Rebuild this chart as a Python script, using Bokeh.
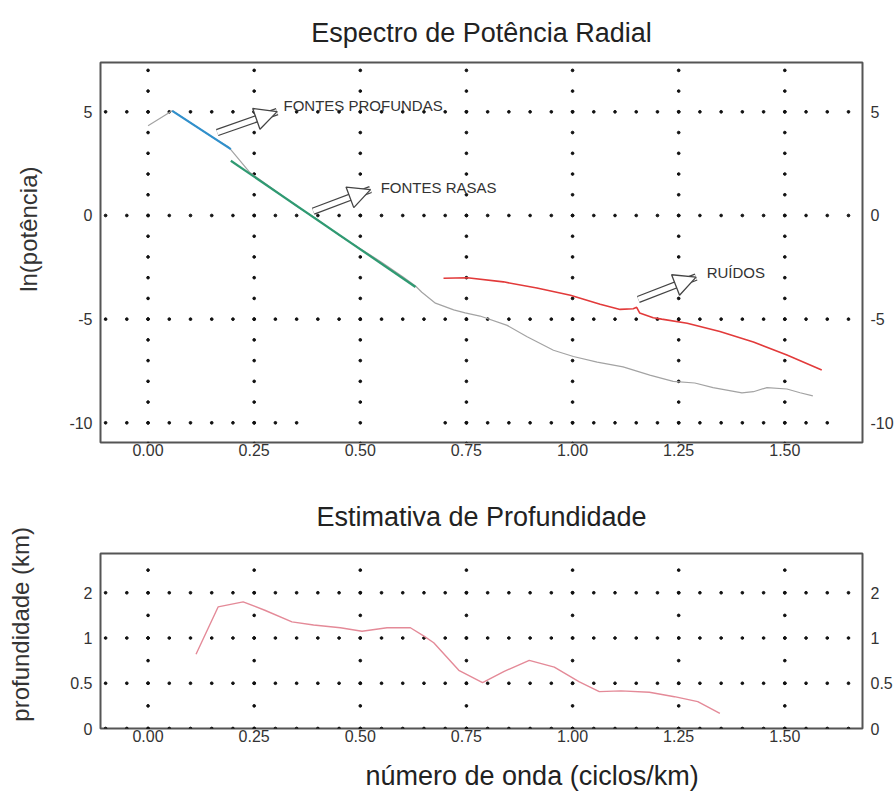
import numpy as np
from bokeh.plotting import figure
from bokeh.layouts import column
from bokeh.models import (LinearAxis, LogAxis, FixedTicker, Label, Arrow,
                          NormalHead, Title, Range1d)
from bokeh.embed import file_html
from bokeh.resources import INLINE

FONT = "Liberation Sans"
NBSP = "\u00a0"

# ---- radial power spectrum (ln power vs wavenumber) ----
spec_x = [0.0, 0.057, 0.10, 0.15, 0.19, 0.24, 0.30, 0.35, 0.40, 0.45, 0.50,
          0.55, 0.60, 0.63, 0.645, 0.677, 0.72, 0.747, 0.782, 0.846, 0.893,
          0.955, 1.002, 1.058, 1.119, 1.182, 1.237, 1.288, 1.331, 1.399,
          1.426, 1.458, 1.505, 1.536, 1.566]
spec_y = [4.33, 5.05, 4.47, 3.8, 3.3, 2.07, 1.2, 0.45, -0.2, -0.95, -1.6,
          -2.25, -2.95, -3.4, -3.7, -4.23, -4.55, -4.7, -4.85, -5.3, -5.85,
          -6.5, -6.8, -7.07, -7.3, -7.7, -8.0, -8.08, -8.3, -8.56,
          -8.5, -8.3, -8.37, -8.55, -8.7]

# linear fits: deep sources and shallow sources
deep_x = [0.057, 0.195]
deep_y = [5.05, 3.2]
shallow_x = [0.195, 0.63]
shallow_y = [2.64, -3.45]

# noise segment
noise_x = [0.696, 0.752, 0.837, 0.916, 0.995, 1.065, 1.112, 1.143, 1.151,
           1.158, 1.19, 1.21, 1.27, 1.347, 1.426, 1.505, 1.587]
noise_y = [-3.03, -3.0, -3.2, -3.5, -3.85, -4.28, -4.53, -4.5, -4.43,
           -4.7, -4.93, -5.0, -5.2, -5.6, -6.1, -6.73, -7.45]

# ---- depth estimate ----
depth_x = [0.113, 0.165, 0.224, 0.275, 0.339, 0.39, 0.453, 0.504, 0.563,
           0.618, 0.65, 0.673, 0.732, 0.788, 0.839, 0.898, 0.957, 1.016,
           1.063, 1.114, 1.181, 1.24, 1.295, 1.347]
depth_y = [0.78, 1.61, 1.74, 1.53, 1.28, 1.22, 1.17, 1.11, 1.17, 1.17,
           1.03, 0.93, 0.61, 0.505, 0.60, 0.71, 0.64, 0.51, 0.44, 0.445,
           0.436, 0.407, 0.377, 0.315]

x_ticks = [0.0, 0.25, 0.5, 0.75, 1.0, 1.25, 1.5]
x_tick_labels = ["0.00", "0.25", "0.50", "0.75", "1.00", "1.25", "1.50"]
spec_ticks = [-10, -5, 0, 5]
spec_tick_labels = ["-10", "-5", "0", "5"]
depth_ticks = [0.25, 0.5, 1, 2]
depth_tick_labels = ["0", "0.5", "1", "2"]

X_RANGE = (-0.112, 1.683)


def style(p):
    p.outline_line_color = "#555555"
    p.outline_line_width = 2
    p.xgrid.visible = False
    p.ygrid.visible = False
    p.title.text_font = FONT
    p.title.text_font_size = "27px"
    p.title.text_font_style = "normal"
    p.title.text_color = "#222222"
    p.title.align = "center"
    for ax in p.axis:
        ax.axis_line_color = None
        ax.major_tick_line_color = None
        ax.minor_tick_line_color = None
        ax.major_tick_out = 0
        ax.major_tick_in = 0
        ax.minor_tick_out = 0
        ax.minor_tick_in = 0
        ax.major_label_text_font = FONT
        ax.major_label_text_font_size = "16px"
        ax.major_label_text_color = "#333333"
        ax.axis_label_text_font = FONT
        ax.axis_label_text_font_size = "24px"
        ax.axis_label_text_font_style = "normal"
        ax.axis_label_text_color = "#333333"


def x_axis_setup(p):
    p.xaxis.ticker = FixedTicker(ticks=x_ticks)
    p.xaxis.major_label_overrides = dict(zip(x_ticks, x_tick_labels))
    p.xaxis.major_label_standoff = 1


# ================= top figure =================
top = figure(width=896, height=475, x_range=X_RANGE, y_range=(-10.95, 7.38),
             output_backend="svg", toolbar_location=None,
             title="Espectro de Potência Radial",
             min_border_left=100, min_border_right=34,
             min_border_top=62, min_border_bottom=33)
top.title.standoff = 30
top.add_layout(LinearAxis(), "right")
style(top)
x_axis_setup(top)
for ax in top.yaxis:
    ax.ticker = FixedTicker(ticks=spec_ticks)
    ax.major_label_overrides = dict(zip(spec_ticks, spec_tick_labels))
    ax.major_label_standoff = 8
# caption sits a little above the frame centre
top.yaxis[0].axis_label = NBSP * 7 + "ln(potência)"
top.yaxis[0].axis_label_standoff = 24

# dotted grid
gx = np.round(np.arange(-0.10, 1.651, 0.05), 3)
hx, hy = [], []
for yv in spec_ticks:
    for xv in gx:
        if yv == -10 and (0.36 < xv < 0.69 or xv > 1.61):
            continue
        hx.append(xv)
        hy.append(yv)
vy = np.arange(-11, 8, 1)
for xv in x_ticks:
    for yv in vy:
        hx.append(xv)
        hy.append(yv)
top.scatter(hx, hy, size=2.7, color="#111111", marker="circle")

top.line(spec_x, spec_y, line_color="#a3a3a3", line_width=1.2)
top.line(deep_x, deep_y, line_color="#3090cc", line_width=2.2)
top.line(shallow_x, shallow_y, line_color="#2f9a72", line_width=2.2)
top.line(noise_x, noise_y, line_color="#e23a3a", line_width=1.6)


def hollow_arrow(p, x0, y0, x1, y1):
    p.add_layout(Arrow(x_start=x0, y_start=y0, x_end=x1, y_end=y1, end=None,
                       line_color="#444444", line_width=7.5))
    p.add_layout(Arrow(x_start=x0, y_start=y0, x_end=x1, y_end=y1, end=None,
                       line_color="white", line_width=5))
    p.add_layout(Arrow(x_start=x0, y_start=y0, x_end=x1, y_end=y1,
                       end=NormalHead(size=22, fill_color="white",
                                      line_color="#444444", line_width=1.3),
                       line_alpha=0, line_width=0.1))


ann = [("FONTES PROFUNDAS", 0.163, 4.0, 0.304, 5.01, 0.319, 5.29),
       ("FONTES RASAS", 0.389, 0.21, 0.524, 1.25, 0.548, 1.36),
       ("RUÍDOS", 1.155, -4.05, 1.291, -2.97, 1.316, -2.74)]
for text, x0, y0, x1, y1, tx, ty in ann:
    hollow_arrow(top, x0, y0, x1, y1)
    top.add_layout(Label(x=tx, y=ty, text=text, text_font=FONT,
                         text_font_size="15px", text_color="#333333",
                         text_baseline="middle", text_align="left"))

# ================= bottom figure =================
bot = figure(width=896, height=335, x_range=X_RANGE,
             y_range=Range1d(0.25, 3.65), y_axis_type="log",
             output_backend="svg", toolbar_location=None,
             title="Estimativa de Profundidade",
             min_border_left=100, min_border_right=34,
             min_border_top=78, min_border_bottom=82)
bot.title.standoff = 44
bot.add_layout(LogAxis(), "right")
style(bot)
x_axis_setup(bot)
for ax in bot.yaxis:
    ax.ticker = FixedTicker(ticks=depth_ticks)
    ax.major_label_overrides = dict(zip(depth_ticks, depth_tick_labels))
    ax.major_label_standoff = 8
bot.yaxis[0].axis_label = NBSP * 5 + "profundidade (km)"
bot.yaxis[0].axis_label_standoff = 33

bx, by = [], []
for yv in depth_ticks:
    for xv in gx:
        bx.append(xv)
        by.append(yv)
for xv in x_ticks:
    for k in range(8):
        bx.append(xv)
        by.append(0.25 * 2 ** (k / 2))
bot.scatter(bx, by, size=2.7, color="#111111", marker="circle")
bot.line(depth_x, depth_y, line_color="#e48a98", line_width=1.4)

bot.add_layout(Title(text="número de onda (ciclos/km)", align="left",
                     offset=265, standoff=28, text_font=FONT,
                     text_font_size="27px", text_font_style="normal",
                     text_color="#222222"), "below")

layout = column(top, bot, spacing=0)
open("out.html", "w").write(file_html(layout, INLINE))
